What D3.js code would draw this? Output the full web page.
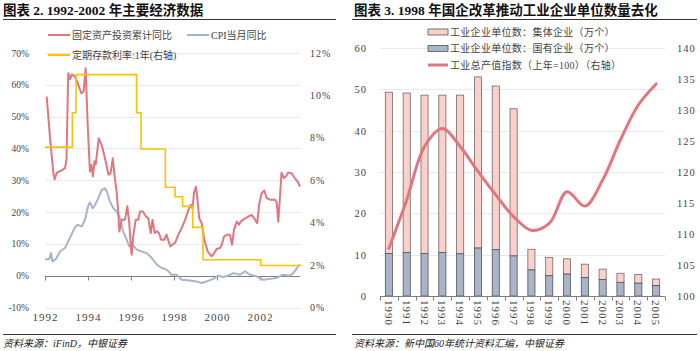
<!DOCTYPE html>
<meta charset="utf-8">
<style>
body { margin: 0; background: #fff; }
svg { font-family: "Liberation Serif", "Noto Sans CJK SC", serif; }
.title { font-weight: bold; font-size: 13.5px; fill: #111; }
.src { font-style: italic; font-size: 10px; fill: #222; }
.lg { font-size: 10px; fill: #444; }
</style>
<body>
<script src="https://d3js.org/d3.v7.min.js"></script>
<script>

// ---- left chart data: [decimal year, value] ----
var faiSeries = [[1992.08,56.3],[1992.25,42],[1992.39,32.2],[1992.45,30.3],[1992.55,32.4],[1992.75,33],[1992.93,33.8],[1993.0,36.4],
  [1993.08,63.6],[1993.17,61.8],[1993.25,63.3],[1993.38,62.6],[1993.5,61],[1993.6,58.9],[1993.7,57.3],[1993.8,58],[1993.89,65.2],
  [1993.98,48.4],[1994.09,32.7],[1994.16,34.8],[1994.23,31.2],[1994.3,36],[1994.36,35],[1994.5,43.2],[1994.6,41.6],[1994.68,40],
  [1994.84,35.4],[1994.95,31.7],[1995.05,32.2],[1995.15,36.9],[1995.26,30.1],[1995.33,26.5],[1995.4,20.7],[1995.46,13.9],
  [1995.57,17.6],[1995.72,17.6],[1995.83,21.8],[1995.92,16.5],[1995.99,9.2],[1996.03,6.6],[1996.1,12.3],[1996.22,17.6],
  [1996.33,17.6],[1996.42,20.2],[1996.55,20.2],[1996.7,18.6],[1996.8,18.1],[1996.92,13.4],[1997.0,17.6],[1997.1,13.4],
  [1997.2,14],[1997.3,13.4],[1997.4,11.3],[1997.55,11.3],[1997.65,12.9],[1997.75,10.8],[1997.83,9.2],[1997.93,9.8],
  [1998.05,10.3],[1998.2,12.9],[1998.36,15],[1998.52,17.6],[1998.67,20.7],[1998.78,22.3],[1998.86,21.2],[1998.93,26],
  [1999.02,28],[1999.08,24.9],[1999.17,18.1],[1999.29,16.5],[1999.41,11.3],[1999.57,7.6],[1999.75,6.1],[1999.87,7.1],
  [1999.98,8.4],[2000.14,8.7],[2000.22,9.7],[2000.33,12.3],[2000.48,12.9],[2000.6,12.9],[2000.7,9.7],[2000.79,14.4],
  [2000.92,17],[2001.02,16],[2001.1,17],[2001.22,17.6],[2001.46,18.6],[2001.61,19.1],[2001.77,17.6],[2001.87,16.5],
  [2001.97,22.8],[2002.08,26],[2002.2,26.8],[2002.31,24.4],[2002.47,23.9],[2002.7,23.9],[2002.78,22.8],[2002.85,17],
  [2002.93,24.9],[2003.0,32.4],[2003.11,30.7],[2003.2,31.2],[2003.31,32.4],[2003.47,32.2],[2003.62,30.7],[2003.75,29.6],[2003.86,28]];

var cpiSeries = [[1992.0,5.2],[1992.2,5.2],[1992.28,7.1],[1992.35,4.5],[1992.5,5.2],[1992.7,7.6],[1992.93,8.7],[1993.08,10.8],
  [1993.23,12.9],[1993.38,15],[1993.5,16],[1993.71,15.5],[1993.86,17.6],[1994.01,22],[1994.09,23],[1994.22,21.2],[1994.33,22.3],
  [1994.48,24.4],[1994.64,27],[1994.79,27.5],[1994.9,26],[1995.02,23.3],[1995.18,21.2],[1995.33,20.2],[1995.49,18.1],
  [1995.61,14.4],[1995.77,11.8],[1995.92,9.2],[1996.08,9.7],[1996.27,8.2],[1996.5,7.6],[1996.73,7.1],[1996.96,5.6],
  [1997.2,3.5],[1997.43,2.4],[1997.66,1.9],[1997.89,0.3],[1998.13,0.3],[1998.36,-1.3],[1998.74,-1.5],[1999.05,-1.8],
  [1999.29,-2.3],[1999.52,-1.8],[1999.83,-1.0],[2000.06,0],[2000.29,-0.4],[2000.52,0],[2000.76,0.8],[2001.07,0.3],
  [2001.3,1.4],[2001.53,0.3],[2001.84,-0.2],[2002.15,-1.3],[2002.46,-1.0],[2002.77,-0.7],[2003.08,0.3],[2003.39,0],
  [2003.55,0.8],[2003.75,2.7],[2003.85,3.5]];

// deposit rate, change points (step after)
var rateSeries = [[1992.0,7.56],[1993.27,9.18],[1993.44,10.98],[1996.26,9.18],[1996.47,7.47],[1997.6,5.67],[1998.05,5.22],
  [1998.4,4.77],[1998.87,3.78],[1999.35,2.25],[2002.03,1.98],[2003.92,1.98]];

var leftYTicks = [-10, 0, 10, 20, 30, 40, 50, 60, 70];
var rightYTicks = [0, 2, 4, 6, 8, 10, 12];
var yearTicks = [1992, 1994, 1996, 1998, 2000, 2002];

// ---- right chart data ----
var years = ["1990","1991","1992","1993","1994","1995","1996","1997","1998","1999","2000","2001","2002","2003","2004","2005"];
var stateOwned = [10.3,10.5,10.3,10.5,10.2,11.6,11.2,9.7,6.3,4.9,5.3,4.5,4.0,3.3,3.1,2.5];
var collective = [39.0,38.6,38.3,38.1,38.4,41.4,39.6,35.6,5.0,4.4,3.7,3.2,2.5,2.2,2.1,1.6];
var outputIndex = [107.7,115.5,124.1,127.0,124.1,120.1,116.3,112.8,110.6,111.7,116.8,114.5,118.7,125.2,130.8,134.2];

var red = "#e2767e", grayBlue = "#a7b5c9", yellow = "#ffc000";
var pink = "#fbd0ca", barBlue = "#a9b4c8";

var svg = d3.select("body").append("svg").attr("width", 700).attr("height", 351);

// ================= left chart =================
var g1 = svg.append("g");
g1.append("text").attr("class", "title").attr("x", 3).attr("y", 15).text("图表 2. 1992-2002 年主要经济数据");
g1.append("line").attr("x1", 3).attr("x2", 336).attr("y1", 19.5).attr("y2", 19.5).attr("stroke", "#333");
g1.append("line").attr("x1", 3).attr("x2", 336).attr("y1", 334.5).attr("y2", 334.5).attr("stroke", "#333");
g1.append("text").attr("class", "src").attr("x", 3).attr("y", 347).text("资料来源：iFinD，中银证券");

var xL = d3.scaleLinear().domain([1992, 2004]).range([45, 303]);
var yL = d3.scaleLinear().domain([-10, 70]).range([307.5, 53]);
var yR = d3.scaleLinear().domain([0, 12]).range([307.5, 53]);

// grid
g1.selectAll(".grid").data(leftYTicks.filter(function(d) { return d !== 0; }))
  .enter().append("line")
    .attr("x1", 45).attr("x2", 300)
    .attr("y1", function(d) { return Math.round(yL(d)) + 0.5; })
    .attr("y2", function(d) { return Math.round(yL(d)) + 0.5; })
    .attr("stroke", "#e8e8ee");

g1.selectAll(".ly").data(leftYTicks).enter().append("text")
    .attr("x", 29).attr("y", function(d) { return yL(d) + 3.5; })
    .attr("text-anchor", "end").attr("font-size", 9.5).attr("fill", "#444")
    .text(function(d) { return d + "%"; });

g1.selectAll(".ry").data(rightYTicks).enter().append("text")
    .attr("x", 310).attr("y", function(d) { return yR(d) + 3.5; })
    .attr("font-size", 10).attr("fill", "#444").attr("letter-spacing", 1)
    .text(function(d) { return d + "%"; });

var xAxisL = g1.append("g")
    .attr("transform", "translate(0," + (Math.round(yL(0)) + 0.5) + ")")
    .call(d3.axisBottom(xL).tickValues(yearTicks).tickSize(4).tickPadding(33).tickFormat(d3.format("d")));
xAxisL.select(".domain").attr("d", "M45,0H300").attr("stroke", "#7f7f7f");
xAxisL.selectAll(".tick line").attr("stroke", "#7f7f7f");
xAxisL.selectAll(".tick text").attr("font-size", 11).attr("fill", "#444").attr("letter-spacing", 1)
    .attr("font-family", "Liberation Serif");

var lineL = d3.line().x(function(d) { return xL(d[0]); }).y(function(d) { return yL(d[1]); });
var lineR = d3.line().x(function(d) { return xL(d[0]); }).y(function(d) { return yR(d[1]); }).curve(d3.curveStepAfter);

g1.append("path").datum(cpiSeries).attr("d", lineL).attr("fill", "none")
    .attr("stroke", grayBlue).attr("stroke-width", 2).attr("stroke-linejoin", "round");
g1.append("path").datum(faiSeries).attr("d", lineL).attr("fill", "none")
    .attr("stroke", red).attr("stroke-width", 2).attr("stroke-linejoin", "round");
g1.append("path").datum(rateSeries).attr("d", lineR).attr("fill", "none")
    .attr("stroke", yellow).attr("stroke-width", 1.6);

// legend
var leg1 = [
  {label: "固定资产投资累计同比", color: red, x: 48, y: 35},
  {label: "CPI当月同比", color: grayBlue, x: 187, y: 35},
  {label: "定期存款利率:1年(右轴)", color: yellow, x: 48, y: 55}
];
var lg1 = g1.selectAll(".leg").data(leg1).enter().append("g");
lg1.append("line").attr("x1", function(d) { return d.x; }).attr("x2", function(d) { return d.x + 22; })
    .attr("y1", function(d) { return d.y; }).attr("y2", function(d) { return d.y; })
    .attr("stroke", function(d) { return d.color; }).attr("stroke-width", 2);
lg1.append("text").attr("class", "lg").attr("x", function(d) { return d.x + 24; })
    .attr("y", function(d) { return d.y + 3.5; }).text(function(d) { return d.label; });

// ================= right chart =================
var g2 = svg.append("g");
g2.append("text").attr("class", "title").attr("x", 354).attr("y", 15).text("图表 3. 1998 年国企改革推动工业企业单位数量去化");
g2.append("line").attr("x1", 352).attr("x2", 697).attr("y1", 19.5).attr("y2", 19.5).attr("stroke", "#333");
g2.append("line").attr("x1", 352).attr("x2", 697).attr("y1", 334.5).attr("y2", 334.5).attr("stroke", "#333");
g2.append("text").attr("class", "src").attr("x", 354).attr("y", 347).text("资料来源：新中国60年统计资料汇编，中银证券");

var xB = d3.scaleBand().domain(years).range([380, 665]).paddingInner(0.6).paddingOuter(0.3);
var yB = d3.scaleLinear().domain([0, 60]).range([296, 48]);
var yI = d3.scaleLinear().domain([100, 140]).range([296, 48]);

g2.selectAll(".grid").data(yB.ticks(6).filter(function(d) { return d !== 0; }))
  .enter().append("line")
    .attr("x1", 380).attr("x2", 665)
    .attr("y1", function(d) { return Math.round(yB(d)) + 0.5; })
    .attr("y2", function(d) { return Math.round(yB(d)) + 0.5; })
    .attr("stroke", "#e8e8ee");

g2.selectAll(".ly").data(yB.ticks(6)).enter().append("text")
    .attr("x", 367).attr("y", function(d) { return yB(d) + 4; })
    .attr("text-anchor", "end").attr("font-size", 10.5).attr("fill", "#444").attr("letter-spacing", 1)
    .text(function(d) { return d; });
g2.selectAll(".ry").data(yI.ticks(8)).enter().append("text")
    .attr("x", 677).attr("y", function(d) { return yI(d) + 4; })
    .attr("font-size", 10.5).attr("fill", "#444").attr("letter-spacing", 1)
    .text(function(d) { return d; });

// bars
var bw = xB.bandwidth();
var bars = g2.selectAll(".bar").data(years).enter().append("g");
bars.append("rect")
    .attr("x", function(d) { return xB(d); })
    .attr("width", bw)
    .attr("y", function(d, i) { return yB(stateOwned[i] + collective[i]); })
    .attr("height", function(d, i) { return yB(stateOwned[i]) - yB(stateOwned[i] + collective[i]); })
    .attr("fill", pink).attr("stroke", "#6b6b6b").attr("stroke-width", 0.8);
bars.append("rect")
    .attr("x", function(d) { return xB(d); })
    .attr("width", bw)
    .attr("y", function(d, i) { return yB(stateOwned[i]); })
    .attr("height", function(d, i) { return yB(0) - yB(stateOwned[i]); })
    .attr("fill", barBlue).attr("stroke", "#555").attr("stroke-width", 0.8);

// x axis
g2.append("line").attr("x1", 380).attr("x2", 665).attr("y1", 296.5).attr("y2", 296.5).attr("stroke", "#7f7f7f");
var step = xB.step();
g2.selectAll(".xt").data(d3.range(years.length + 1)).enter().append("line")
    .attr("x1", function(i) { return Math.round(380 + i * step) + 0.5; })
    .attr("x2", function(i) { return Math.round(380 + i * step) + 0.5; })
    .attr("y1", 296.5).attr("y2", 300.5).attr("stroke", "#7f7f7f");
g2.selectAll(".xl").data(years).enter().append("text")
    .attr("transform", function(d) { return "translate(" + (xB(d) + bw / 2 - 4) + ",300) rotate(90)"; })
    .attr("font-size", 11).attr("fill", "#444").attr("letter-spacing", 1)
    .text(function(d) { return d; });

// index line
var idxLine = d3.line()
    .x(function(d, i) { return xB(years[i]) + bw / 2; })
    .y(function(d) { return yI(d); })
    .curve(d3.curveCatmullRom);
g2.append("path").datum(outputIndex).attr("d", idxLine).attr("fill", "none")
    .attr("stroke", red).attr("stroke-width", 3).attr("stroke-linecap", "round");

// legend
var leg2 = [
  {label: "工业企业单位数：集体企业（万个）", type: "rect", color: pink, y: 32},
  {label: "工业企业单位数：国有企业（万个）", type: "rect", color: barBlue, y: 48.5},
  {label: "工业总产值指数（上年=100）（右轴）", type: "line", color: red, y: 65}
];
var lg2 = g2.selectAll(".leg").data(leg2).enter().append("g");
lg2.filter(function(d) { return d.type === "rect"; }).append("rect")
    .attr("x", 428).attr("width", 20).attr("y", function(d) { return d.y - 3; }).attr("height", 6)
    .attr("fill", function(d) { return d.color; }).attr("stroke", "#555").attr("stroke-width", 0.8);
lg2.filter(function(d) { return d.type === "line"; }).append("line")
    .attr("x1", 428).attr("x2", 448).attr("y1", function(d) { return d.y; }).attr("y2", function(d) { return d.y; })
    .attr("stroke", function(d) { return d.color; }).attr("stroke-width", 3);
lg2.append("text").attr("class", "lg").attr("x", 450).attr("y", function(d) { return d.y + 3.5; })
    .attr("letter-spacing", 0.3).text(function(d) { return d.label; });

</script>
</body>
